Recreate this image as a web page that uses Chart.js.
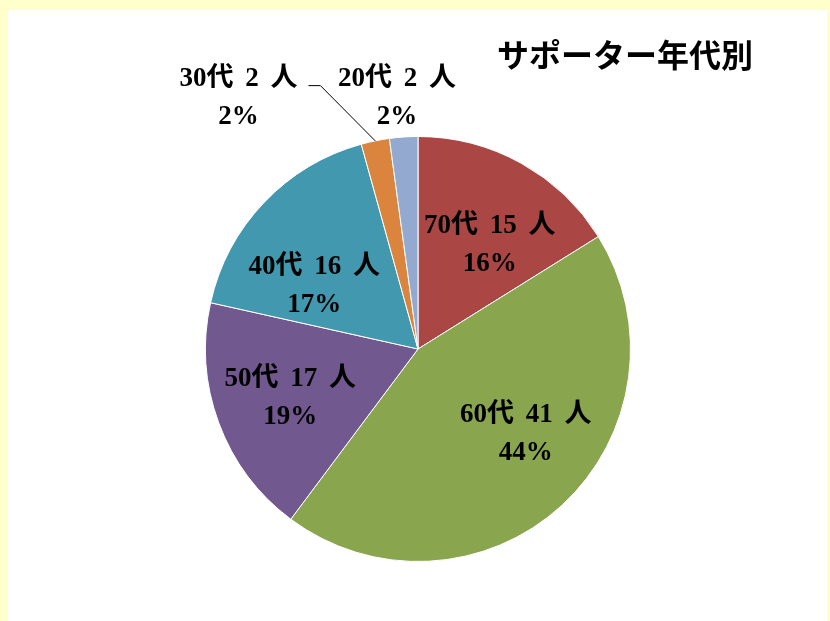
<!DOCTYPE html>
<html>
<head>
<meta charset="utf-8">
<script src="https://cdn.jsdelivr.net/npm/chart.js@4"></script>
<style>
  html, body { margin: 0; padding: 0; }
  body { width: 830px; height: 621px; background: #FFFFCC; overflow: hidden; }
  #frame { position: absolute; left: 8px; top: 10px; width: 819px; height: 611px; background: #FFFFFF; }
</style>
</head>
<body>
<div id="frame"><canvas id="chartcontainer" width="819" height="611"></canvas></div>
<script>
// 年代別のデータ（時計回り、12時の位置から）
var ageGroups = ["70代", "60代", "50代", "40代", "30代", "20代"];
var counts = [15, 41, 17, 16, 2, 2];
var percents = ["16%", "44%", "19%", "17%", "2%", "2%"];
var sliceColors = ["#AA4643", "#89A54E", "#71588F", "#4198AF", "#DB843D", "#93A9CF"];
var chartTitle = "サポーター年代別";

// ラベル位置（中心からの相対位置、半径単位）
var labelPos = [
  [0.338, -0.488],
  [0.507, 0.399],
  [-0.601, 0.230],
  [-0.488, -0.296],
  [-0.845, -1.183],
  [-0.099, -1.183]
];

var labelPlugin = {
  id: "pieLabels",
  afterDatasetsDraw: function(chart) {
    var ctx = chart.ctx;
    var meta = chart.getDatasetMeta(0);
    ctx.save();
    ctx.fillStyle = "#000000";
    ctx.textAlign = "center";
    ctx.textBaseline = "middle";
    ctx.font = "bold 27px 'Liberation Serif', 'Noto Sans CJK JP', serif";
    ctx.wordSpacing = "5px";
    for (var i = 0; i < meta.data.length; i++) {
      var arc = meta.data[i];
      var r = arc.outerRadius;
      var cx = arc.x + labelPos[i][0] * r;
      var cy = arc.y + labelPos[i][1] * r;
      ctx.fillText(ageGroups[i] + " " + counts[i] + " 人", cx, cy - 19);
      ctx.fillText(percents[i], cx, cy + 19);
    }
    ctx.wordSpacing = "0px";
    // 30代のリーダー線
    var a = meta.data[4];
    var mid = (a.startAngle + a.endAngle) / 2;
    var ex = a.x + Math.cos(mid) * a.outerRadius;
    var ey = a.y + Math.sin(mid) * a.outerRadius;
    var lx = a.x + (labelPos[4][0]) * a.outerRadius + 70;
    var ly = a.y + (labelPos[4][1]) * a.outerRadius - 12;
    ctx.strokeStyle = "#000000";
    ctx.lineWidth = 1;
    ctx.beginPath();
    ctx.moveTo(lx, ly);
    ctx.lineTo(lx + 12, ly);
    ctx.lineTo(ex, ey);
    ctx.stroke();
    // タイトル
    ctx.font = "bold 32px 'Noto Sans CJK JP', sans-serif";
    ctx.fillText(chartTitle, 617, 45);
    ctx.restore();
  }
};

var ctx = document.getElementById("chartcontainer").getContext("2d");
var chart = new Chart(ctx, {
  type: "pie",
  data: {
    labels: ageGroups,
    datasets: [{
      data: counts,
      backgroundColor: sliceColors,
      borderColor: "#FFFFFF",
      borderWidth: 1
    }]
  },
  options: {
    responsive: false,
    animation: false,
    layout: {
      padding: { left: 197, right: 196, top: 126, bottom: 59 }
    },
    plugins: {
      legend: { display: false },
      tooltip: { enabled: false }
    }
  },
  plugins: [labelPlugin]
});
</script>
</body>
</html>
